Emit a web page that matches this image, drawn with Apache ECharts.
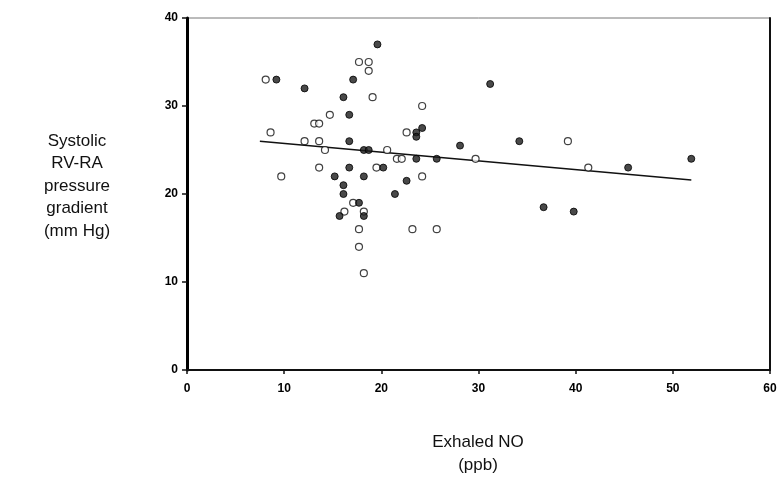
<!DOCTYPE html>
<html><head><meta charset="utf-8">
<script src="https://cdn.jsdelivr.net/npm/echarts@6/dist/echarts.min.js"></script>
<style>html,body{margin:0;padding:0;background:#fff}#c{width:781px;height:485px}</style>
</head><body><div id="c"></div>
<script>
// Open circles: [Exhaled NO (ppb), RV-RA gradient (mm Hg)]
var openPoints = [
  [8.1,33],[17.7,35],[18.7,35],[18.7,34],[19.1,31],[14.7,29],[13.1,28],[13.6,28],
  [8.6,27],[12.1,26],[13.6,26],[14.2,25],[13.6,23],[19.5,23],[9.7,22],[17.1,19],
  [16.2,18],[18.2,18],[17.7,16],[17.7,14],[18.2,11],[24.2,30],[22.6,27],[20.6,25],
  [21.6,24],[22.1,24],[29.7,24],[24.2,22],[23.2,16],[25.7,16],[39.2,26],[41.3,23]
];
// Filled circles
var filledPoints = [
  [9.2,33],[12.1,32],[17.1,33],[19.6,37],[16.1,31],[16.7,29],[16.7,26],[18.2,25],
  [18.7,25],[16.7,23],[15.2,22],[18.2,22],[16.1,21],[16.1,20],[17.7,19],[15.7,17.5],
  [18.2,17.5],[31.2,32.5],[24.2,27.5],[23.6,27],[23.6,26.5],[28.1,25.5],[34.2,26],
  [23.6,24],[25.7,24],[20.2,23],[22.6,21.5],[21.4,20],[36.7,18.5],[45.4,23],[51.9,24],[39.8,18]
];
// Regression line end points
var trendLine = [[7.5,26.0],[51.9,21.6]];
var xTicks = [0,10,20,30,40,50,60];
var yTicks = [0,10,20,30,40];
var yTitle = ['Systolic','RV-RA','pressure','gradient','(mm Hg)'];
var xTitle = ['Exhaled NO','(ppb)'];

var chart = echarts.init(document.getElementById('c'));
var lab = {fontFamily:'Liberation Sans, Arial', fontWeight:'bold', fontSize:12, color:'#000'};
chart.setOption({
  animation:false,
  grid:{left:187,right:11,top:18,bottom:115,show:true,borderColor:'#777',borderWidth:1,backgroundColor:'#fff'},
  xAxis:{type:'value',min:xTicks[0],max:xTicks[xTicks.length-1],interval:10,
    axisLine:{show:true,lineStyle:{color:'#111',width:2}},
    axisTick:{show:true,length:4,lineStyle:{color:'#111',width:1.5}},
    axisLabel:Object.assign({margin:13},lab),
    splitLine:{show:false}},
  yAxis:[{type:'value',min:yTicks[0],max:yTicks[yTicks.length-1],interval:10,
    axisLine:{show:true,lineStyle:{color:'#000',width:3}},
    axisTick:{show:true,length:5,lineStyle:{color:'#111',width:1.5}},
    axisLabel:Object.assign({margin:9},lab),
    splitLine:{show:false}},
    {type:'value',position:'right',min:yTicks[0],max:yTicks[yTicks.length-1],interval:10,
    axisLine:{show:true,onZero:false,lineStyle:{color:'#111',width:2}},
    axisTick:{show:false},axisLabel:{show:false},splitLine:{show:false}}],
  graphic:[
    {type:'text',style:{text:yTitle.join('\n'),font:'17px Liberation Sans, Arial',fill:'#111',textAlign:'center',lineHeight:22.5},x:77,y:130},
    {type:'text',style:{text:xTitle.join('\n'),font:'17px Liberation Sans, Arial',fill:'#111',textAlign:'center',lineHeight:23},x:478,y:431}
  ],
  series:[
    {type:'line',data:trendLine,symbol:'none',lineStyle:{color:'#111',width:1.5},z:1},
    {type:'scatter',data:openPoints,symbol:'circle',symbolSize:7,
      itemStyle:{color:'#fff',borderColor:'#111',borderWidth:1.2},z:3},
    {type:'scatter',data:filledPoints,symbol:'circle',symbolSize:7,
      itemStyle:{color:'#1c1c1c',borderColor:'#000',borderWidth:1},z:4}
  ]
});
</script></body></html>
